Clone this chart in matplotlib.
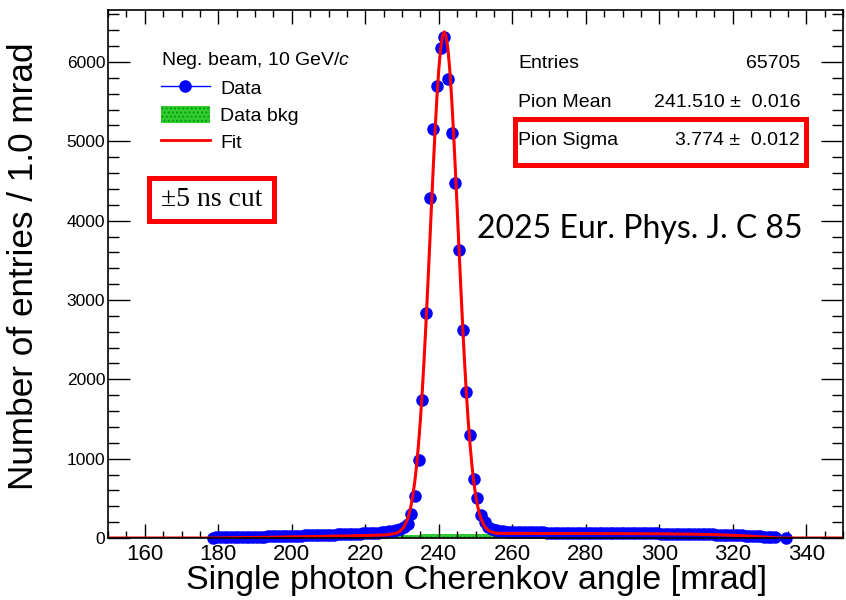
import numpy as np
import matplotlib.pyplot as plt
from matplotlib.patches import Rectangle, Patch
from matplotlib.lines import Line2D
from matplotlib.ticker import MultipleLocator

plt.rcParams['font.family'] = ['Liberation Sans', 'DejaVu Sans']
plt.rcParams['mathtext.fontset'] = 'custom'
plt.rcParams['mathtext.it'] = 'Liberation Sans:italic'
plt.rcParams['hatch.linewidth'] = 1.0

# data histogram, 1 mrad bins (centres 178.5 ... 334.5), NaN = empty bin
bin_centers = np.arange(178.5, 335.0, 1.0)
counts = [
    # 178.5 - 230.5
    6, 7, 8, 8, 9, 10, 11, 11, 12, 13, 14, 14, 15, 17, 18, 19, 20, 22, 23, 24,
    25, 27, 28, 29, 31, 32, 33, 35, 36, 37, 39, 40, 42, 43, 45, 46, 48, 49, 51, 53,
    55, 57, 59, 61, 64, 67, 71, 76, 82, 90, 102, 116, 136,
    # 231.5 - 253.5 (peak)
    179, 305, 524, 987, 1744, 2837, 4287, 5155, 5698, 6174, 6320, 5786, 5101, 4470,
    3628, 2627, 1840, 1294, 747, 502, 284, 200, 140,
    # 254.5 - 331.5
    108, 96, 88, 84, 80, 78, 76, 75, 74, 73,
    72, 71, 71, 70, 70, 69, 69, 68, 68, 67,
    67, 66, 66, 66, 65, 65, 64, 64, 64, 63,
    63, 62, 62, 62, 61, 61, 61, 60, 60, 59,
    59, 59, 58, 58, 57, 57, 56, 56, 55, 55,
    54, 53, 53, 52, 51, 50, 49, 48, 47, 46,
    45, 44, 42, 41, 39, 38, 36, 34, 32, 30,
    28, 25, 23, 20, 17, 14, 11, 8,
    # 332.5 - 334.5
    np.nan, np.nan, 4,
]

# fit curve
fit_x = [150, 178, 185, 195, 205, 215, 222, 226, 228.5, 229.5, 230.5, 231.5, 232,
         232.5, 233, 233.5, 234, 234.5, 235, 235.5, 236, 236.5, 237, 237.5, 238,
         238.5, 239, 239.5, 240, 240.5, 241, 241.5, 242, 242.5, 243, 243.5, 244,
         244.5, 245, 245.5, 246, 246.5, 247, 247.5, 248, 248.5, 249, 249.5, 250,
         250.5, 251, 251.5, 252.5, 253.5, 254.5, 255.5, 257, 260, 270, 280, 290,
         300, 310, 315, 320, 325, 328, 331, 333, 350]
fit_y = [0, 0, 4, 10, 18, 26, 34, 40, 61, 86, 138, 237, 314,
         418, 550, 719, 929, 1184, 1486, 1839, 2239, 2682, 3160, 3660, 4168,
         4665, 5133, 5551, 5899, 6162, 6325, 6380, 6325, 6162, 5899, 5551, 5133,
         4665, 4168, 3660, 3160, 2682, 2239, 1839, 1486, 1184, 929, 719, 550,
         421, 318, 242, 145, 95, 72, 63, 58, 58, 57, 56, 55,
         53, 47, 42, 34, 22, 14, 5, 0, 0]

# background histogram
bkg_x = [228, 235, 245, 255, 265, 280, 300, 310, 320, 326, 331]
bkg_y = [42, 48, 52, 54, 54, 53, 50, 44, 32, 18, 0]

stat_names = ['Entries', 'Pion Mean', 'Pion Sigma']
stat_values = ['65705', '241.510 \u00b1  0.016', '3.774 \u00b1  0.012']

blue = '#0000ff'
green = '#33cc33'

fig = plt.figure(figsize=(8.46, 6.0), dpi=100)
ax = fig.add_axes([108 / 846, 1 - 538 / 600, 735 / 846, 528 / 600])

ax.fill_between(bkg_x, bkg_y, step='post', facecolor=green, edgecolor='#00a000',
                hatch='....', lw=0, zorder=1.5)
ax.plot(bin_centers, counts, 'o', color=blue, ms=8, zorder=1.6, clip_on=False)
ax.plot(fit_x, fit_y, color='red', lw=2.2, zorder=1.8)

ax.set_xlim(150, 350)
ax.set_ylim(0, 6655)
ax.xaxis.set_major_locator(MultipleLocator(20))
ax.xaxis.set_minor_locator(MultipleLocator(5))
ax.yaxis.set_major_locator(MultipleLocator(1000))
ax.yaxis.set_minor_locator(MultipleLocator(200))
ax.tick_params(which='both', direction='in', top=True, right=True, width=1)
ax.tick_params(axis='x', which='major', length=10, labelsize=16, pad=4)
ax.tick_params(axis='x', which='minor', length=5)
ax.tick_params(axis='y', which='major', length=16, labelsize=12.5, pad=2)
ax.tick_params(axis='y', which='minor', length=8)
for s in ax.spines.values():
    s.set_linewidth(1.2)

fig.text(476 / 846, 1 - 580 / 600, 'Single photon Cherenkov angle [mrad]',
         fontsize=24.5, ha='center', va='center')
fig.text(24 / 846, 1 - 266 / 600, 'Number of entries / 1.0 mrad',
         fontsize=25.3, ha='center', va='center', rotation=90)

h_data = Line2D([], [], color=blue, marker='o', ms=8, lw=1)
h_bkg = Patch(facecolor=green, edgecolor='#00a000', hatch='....', lw=0)
h_fit = Line2D([], [], color='red', lw=2)
ax.legend([h_data, h_bkg, h_fit], ['Data', 'Data bkg', 'Fit'],
          title='Neg. beam, 10 GeV/$c$', loc='upper left',
          bbox_to_anchor=(0.072, 0.925), frameon=False, fontsize=14,
          title_fontsize=14, alignment='left', handlelength=2.5,
          handleheight=1.0, labelspacing=0.4, borderpad=0, borderaxespad=0,
          handletextpad=0.55)

for name, val, y in zip(stat_names, stat_values, [0.8996, 0.8239, 0.7519]):
    ax.text(0.558, y, name, fontsize=14, ha='left', va='center', transform=ax.transAxes)
    ax.text(0.9415, y, val, fontsize=14, ha='right', va='center', transform=ax.transAxes)

ax.add_patch(Rectangle((0.5544, 0.7064), 0.949 - 0.5544, 0.7945 - 0.7064,
                       transform=ax.transAxes, fill=False, ec='red', lw=3.6,
                       clip_on=False, zorder=5))
ax.add_patch(Rectangle((0.0561, 0.6008), 0.2261 - 0.0561, 0.6809 - 0.6008,
                       transform=ax.transAxes, fill=False, ec='red', lw=3.6,
                       clip_on=False, zorder=5))
ax.text(0.141, 0.641, '\u00b15 ns cut', fontsize=20, family=['Liberation Serif'],
        ha='center', va='center', transform=ax.transAxes)
ax.text(0.7238, 0.585, '2025 Eur. Phys. J. C 85', fontsize=23, family=['Lato'],
        ha='center', va='center', transform=ax.transAxes)

fig.savefig('out.png', dpi=100)
